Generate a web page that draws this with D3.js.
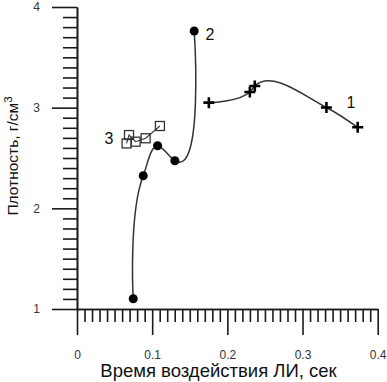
<!DOCTYPE html>
<html>
<head>
<meta charset="utf-8">
<script src="https://cdn.jsdelivr.net/npm/d3@7"></script>
<style>
  body { margin: 0; background: #fff; }
  text { font-family: "Liberation Sans", Arial, sans-serif; }
</style>
</head>
<body>
<div id="chart"></div>
<script>
// series 1 (crosses), 2 (filled circles), 3 (open squares)
const series1 = [
    { t: 0.1754, rho: 3.05 },
    { t: 0.2299, rho: 3.156 },
    { t: 0.2365, rho: 3.215 },
    { t: 0.3318, rho: 3.002 },
    { t: 0.3734, rho: 2.805 }
];
const series2 = [
    { t: 0.0748, rho: 1.102 },
    { t: 0.0881, rho: 2.324 },
    { t: 0.1072, rho: 2.622 },
    { t: 0.1302, rho: 2.473 },
    { t: 0.1559, rho: 3.762 }
];
const series3 = [
    { t: 0.0660, rho: 2.645 },
    { t: 0.0692, rho: 2.728 },
    { t: 0.0780, rho: 2.662 },
    { t: 0.0913, rho: 2.696 },
    { t: 0.1103, rho: 2.818 }
];
const xTicks = [0, 0.1, 0.2, 0.3, 0.4];
const yTicks = [1, 2, 3, 4];

const width = 387, height = 382;

const svg = d3.select("#chart")
    .append("svg")
    .attr("width", width)
    .attr("height", height);

const x = d3.scaleLinear().domain([0, 0.4]).range([77, 377.7]);
const y = d3.scaleLinear().domain([1, 4]).range([309, 7]);

const xMinor = d3.range(0, 41).map(i => i / 100).filter(v => !xTicks.some(t => Math.abs(t - v) < 1e-9));
const yMinor = d3.range(10, 41).map(i => i / 10).filter(v => !yTicks.some(t => Math.abs(t - v) < 1e-9));

// x axis
const gx = svg.append("g").attr("transform", `translate(0,${y(1)})`);
gx.append("g")
    .call(d3.axisBottom(x).tickValues(xMinor).tickSize(13).tickFormat("").tickSizeOuter(0));
gx.append("g")
    .call(d3.axisBottom(x).tickValues(xTicks).tickSize(26).tickPadding(15).tickSizeOuter(0)
        .tickFormat(d => d === 0 ? "0" : d3.format(".1f")(d)));

// y axis
const gy = svg.append("g").attr("transform", `translate(${x(0)},0)`);
gy.append("g")
    .call(d3.axisLeft(y).tickValues(yMinor).tickSize(14).tickFormat("").tickSizeOuter(0));
gy.append("g")
    .call(d3.axisLeft(y).tickValues(yTicks).tickSize(25).tickPadding(12).tickSizeOuter(0)
        .tickFormat(d3.format("d")));

svg.selectAll(".domain, .tick line")
    .attr("stroke", "#1a1a1a")
    .attr("stroke-width", 1.6);
svg.selectAll(".tick text")
    .attr("font-size", 12)
    .attr("fill", "#333")
    .style("font-family", "'Liberation Sans', Arial, sans-serif");

// axis titles
svg.append("text")
    .attr("x", 218.5)
    .attr("y", 377)
    .attr("text-anchor", "middle")
    .attr("font-size", 18.5)
    .attr("fill", "#111")
    .text("Время воздействия ЛИ, сек");

const yTitle = svg.append("text")
    .attr("transform", "translate(18,156) rotate(-90)")
    .attr("text-anchor", "middle")
    .attr("font-size", 15.5)
    .attr("fill", "#111");
yTitle.append("tspan").text("Плотность, г/см");
yTitle.append("tspan").attr("dy", -6).attr("font-size", 11.5).text("3");

// curves
const smooth = d3.line()
    .x(d => x(d.t))
    .y(d => y(d.rho))
    .curve(d3.curveCatmullRom.alpha(1));

[series1, series2].forEach(s => {
    svg.append("path")
        .datum(s)
        .attr("d", smooth)
        .attr("fill", "none")
        .attr("stroke", "#333")
        .attr("stroke-width", 1.5);
});

const straight = d3.line()
    .x(d => x(d.t))
    .y(d => y(d.rho));

svg.append("path")
    .datum(series3)
    .attr("d", straight)
    .attr("fill", "none")
    .attr("stroke", "#333")
    .attr("stroke-width", 1.1);

// markers
svg.selectAll(".sq")
    .data(series3)
    .enter()
    .append("rect")
    .attr("x", d => x(d.t) - 4.5)
    .attr("y", d => y(d.rho) - 4.5)
    .attr("width", 9)
    .attr("height", 9)
    .attr("fill", "none")
    .attr("stroke", "#333")
    .attr("stroke-width", 1.3);

svg.selectAll(".dot")
    .data(series2)
    .enter()
    .append("circle")
    .attr("cx", d => x(d.t))
    .attr("cy", d => y(d.rho))
    .attr("r", 4.5)
    .attr("fill", "#000");

svg.selectAll(".cross")
    .data(series1)
    .enter()
    .append("path")
    .attr("d", d => {
        const cx = x(d.t), cy = y(d.rho), h = 5.5;
        return `M${cx - h},${cy}H${cx + h}M${cx},${cy - h}V${cy + h}`;
    })
    .attr("stroke", "#000")
    .attr("stroke-width", 2.6);

// series labels
const labels = [
    { name: "1", px: 351, py: 108 },
    { name: "2", px: 210, py: 40 },
    { name: "3", px: 109, py: 144 }
];
svg.selectAll(".lbl")
    .data(labels)
    .enter()
    .append("text")
    .attr("x", d => d.px)
    .attr("y", d => d.py)
    .attr("text-anchor", "middle")
    .attr("font-size", 16)
    .attr("fill", "#111")
    .text(d => d.name);
</script>
</body>
</html>
